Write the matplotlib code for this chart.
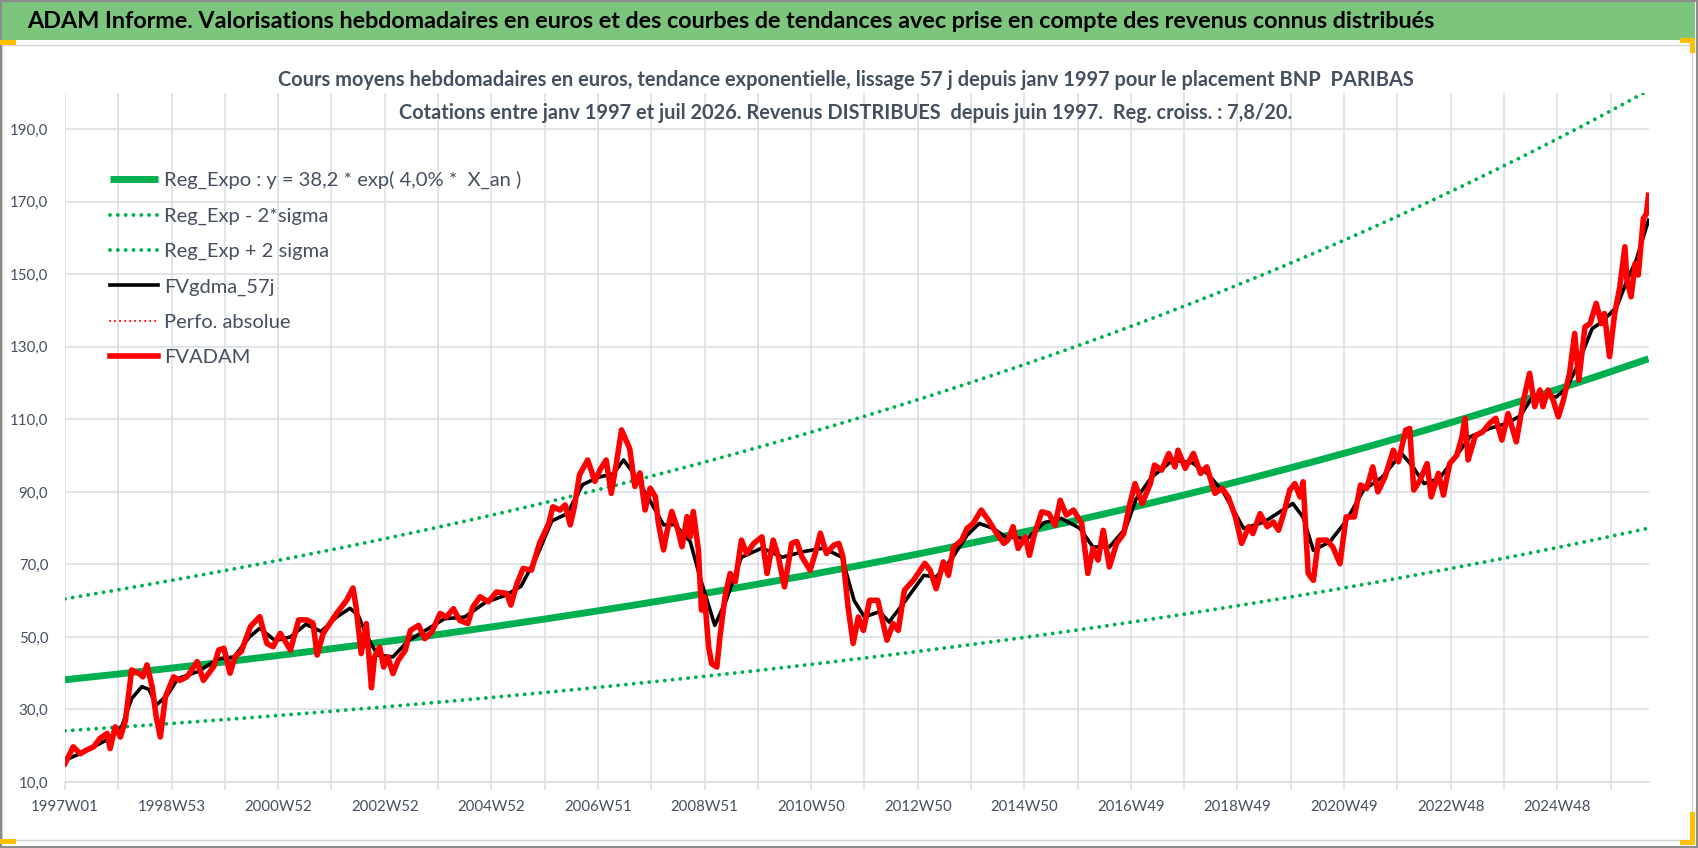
import matplotlib
matplotlib.use('Agg')
import matplotlib.pyplot as plt
from matplotlib.patches import Rectangle
import numpy as np

# ---- données ----
X_LABELS = ['1997W01', '1998W53', '2000W52', '2002W52', '2004W52', '2006W51',
            '2008W51', '2010W50', '2012W50', '2014W50', '2016W49', '2018W49',
            '2020W49', '2022W48', '2024W48']
N_WEEKS = 1546          # janv 1997 -> juil 2026, en semaines
Y_TICKS = [10, 30, 50, 70, 90, 110, 130, 150, 170, 190]

# régression exponentielle affichée dans la légende
REG_A = 38.2
REG_RATE = 0.0405
REG_2SIGMA = 0.46
WEEKS_PER_YEAR = 52.18

# FVADAM (semaine depuis 1997W01, valeur)
WEEK_IDX = [0, 8, 15, 21, 28, 34, 41, 44, 49, 54, 59, 65, 72, 76, 80, 85, 89, 93, 98, 106,
            112, 119, 129, 135, 145, 150, 155, 161, 166, 172, 181, 190, 197, 203, 210, 220, 228, 236, 242, 246,
            252, 265, 275, 281, 284, 289, 294, 299, 302, 307, 311, 315, 320, 325, 332, 337, 345, 351, 358, 366,
            372, 379, 385, 393, 398, 405, 413, 421, 431, 435, 441, 447, 455, 463, 472, 476, 483, 488, 493, 497,
            502, 510, 517, 522, 528, 533, 538, 543, 551, 556, 561, 566, 571, 576, 579, 584, 587, 592, 598, 602,
            607, 610, 613, 618, 621, 624, 628, 631, 636, 639, 644, 649, 654, 660, 665, 672, 680, 685, 691, 696,
            702, 709, 714, 719, 727, 732, 737, 743, 750, 755, 759, 764, 769, 774, 779, 785, 793, 802, 808, 813,
            819, 828, 839, 844, 850, 857, 862, 867, 875, 880, 886, 894, 901, 909, 916, 920, 925, 930, 937, 941,
            946, 953, 960, 966, 971, 977, 984, 992, 998, 1003, 1008, 1013, 1019, 1026, 1033, 1039, 1044, 1051, 1059, 1063,
            1070, 1077, 1083, 1086, 1093, 1101, 1108, 1114, 1122, 1129, 1135, 1142, 1148, 1155, 1159, 1166, 1173, 1179, 1184, 1189,
            1195, 1200, 1205, 1208, 1213, 1218, 1223, 1231, 1237, 1244, 1250, 1258, 1264, 1270, 1276, 1281, 1288, 1296, 1301, 1308,
            1312, 1316, 1322, 1329, 1333, 1340, 1345, 1351, 1358, 1363, 1366, 1369, 1376, 1383, 1390, 1396, 1402, 1408, 1416, 1423,
            1429, 1434, 1439, 1442, 1447, 1452, 1457, 1462, 1468, 1473, 1477, 1483, 1488, 1494, 1499, 1502, 1507, 1512, 1517, 1522,
            1524, 1528, 1532, 1535, 1540, 1543, 1545]
FVADAM = [15.1, 19.7, 17.8, 18.8, 19.7, 22.0, 23.4, 19.2, 25.2, 22.4, 27.0, 40.9, 40.0, 39.0, 42.3, 36.3, 28.0, 22.4, 33.5, 39.0,
          38.0, 39.0, 43.2, 38.0, 41.8, 46.4, 46.9, 40.0, 44.6, 46.0, 52.9, 55.6, 48.2, 47.3, 51.0, 46.4, 54.7, 54.7, 53.8, 45.0,
          51.0, 56.5, 60.2, 63.5, 58.3, 45.4, 53.7, 36.0, 44.5, 47.2, 41.7, 44.5, 39.9, 43.5, 46.3, 51.8, 53.2, 49.5, 51.4, 56.5,
          55.5, 57.8, 54.6, 53.7, 58.3, 61.1, 59.7, 62.4, 62.0, 58.8, 64.7, 68.9, 68.4, 75.8, 81.3, 85.9, 85.0, 86.4, 80.9, 85.9,
          94.7, 98.8, 92.9, 96.1, 98.8, 89.6, 97.9, 107.1, 101.9, 91.5, 95.2, 85.0, 91.0, 88.7, 81.3, 74.0, 78.6, 84.6, 79.5, 74.9,
          83.2, 77.6, 84.6, 74.0, 57.4, 61.1, 47.2, 42.6, 41.7, 50.0, 61.1, 67.5, 65.2, 76.7, 73.0, 75.8, 77.6, 67.5, 76.7, 72.1,
          63.8, 75.8, 76.3, 72.1, 68.4, 73.0, 78.6, 73.0, 75.3, 75.8, 72.1, 58.3, 48.2, 55.5, 51.8, 60.1, 60.1, 49.1, 53.7, 51.8,
          62.9, 65.7, 70.3, 68.4, 63.3, 70.7, 67.0, 74.8, 76.7, 79.9, 81.3, 85.0, 82.2, 78.5, 75.8, 76.7, 80.4, 74.4, 77.6, 72.5,
          78.5, 84.5, 84.0, 80.8, 87.7, 83.6, 85.0, 81.3, 67.5, 74.4, 71.2, 79.4, 69.3, 75.8, 78.5, 86.8, 92.3, 86.8, 92.3, 97.4,
          96.0, 100.6, 96.9, 101.5, 96.5, 100.6, 95.1, 96.9, 89.6, 91.0, 88.6, 83.1, 75.8, 80.4, 78.5, 84.0, 80.4, 81.7, 79.4, 84.0,
          90.5, 92.3, 88.6, 92.8, 67.5, 65.6, 76.7, 76.7, 74.8, 70.2, 83.1, 83.1, 91.9, 90.9, 96.9, 90.0, 94.2, 101.5, 98.3, 107.0,
          107.5, 90.5, 93.2, 97.8, 88.6, 95.1, 89.1, 97.8, 100.1, 105.2, 110.3, 98.8, 105.5, 106.5, 108.9, 110.3, 104.3, 111.6, 103.8, 115.3,
          122.7, 113.5, 118.1, 113.5, 118.1, 115.3, 110.7, 115.3, 122.7, 133.7, 120.8, 135.5, 136.4, 142.0, 136.4, 139.2, 127.3, 139.2, 146.5, 157.6,
          148.4, 143.8, 153.0, 149.8, 165.4, 166.7, 171.8]

GDMA_IDX = [0, 20, 40, 55, 65, 75, 82, 89, 100, 110, 130, 150, 165, 180, 190, 205, 220, 235, 250, 265,
            278, 286, 295, 305, 320, 335, 350, 370, 390, 410, 430, 445, 460, 475, 490, 505, 520, 535, 545, 555,
            570, 584, 595, 610, 620, 634, 645, 660, 680, 700, 720, 740, 758, 770, 780, 795, 804, 820, 838, 850,
            865, 880, 892, 905, 918, 939, 955, 972, 990, 1003, 1019, 1035, 1045, 1060, 1081, 1100, 1115, 1130, 1140, 1150,
            1170, 1198, 1208, 1218, 1234, 1250, 1267, 1285, 1304, 1315, 1326, 1341, 1355, 1371, 1390, 1407, 1420, 1433, 1455, 1465,
            1475, 1490, 1500, 1514, 1525, 1533, 1545]
FVGDMA_57J = [16.0, 18.5, 21.5, 25.0, 33.0, 36.3, 35.5, 31.2, 34.0, 38.5, 40.5, 44.0, 44.5, 50.0, 52.4, 49.0, 50.0, 53.5, 51.5, 55.5,
              57.9, 56.0, 50.0, 45.0, 44.5, 49.0, 51.5, 55.0, 55.5, 59.5, 61.5, 64.0, 72.0, 82.0, 84.0, 92.0, 94.0, 95.0, 98.8, 95.0,
              88.0, 80.9, 81.0, 76.3, 66.0, 53.2, 60.0, 72.0, 74.5, 72.0, 73.5, 74.5, 72.0, 60.0, 55.5, 57.0, 54.1, 60.0, 67.0, 66.5,
              71.5, 78.0, 81.3, 80.0, 77.6, 77.1, 81.5, 82.7, 80.0, 74.8, 74.8, 80.0, 88.0, 94.0, 98.8, 98.0, 95.0, 90.0, 85.0, 79.9,
              81.7, 86.8, 83.0, 73.9, 76.2, 82.0, 90.5, 94.0, 100.6, 97.0, 92.3, 93.7, 99.0, 105.2, 107.5, 108.9, 111.0, 116.7, 116.2, 118.5,
              124.5, 135.0, 137.0, 141.0, 149.0, 153.9, 164.9]

LEGEND_LABELS = ['Reg_Expo : y = 38,2 * exp( 4,0% *  X_an )', 'Reg_Exp - 2*sigma', 'Reg_Exp + 2 sigma',
                 'FVgdma_57j', 'Perfo. absolue', 'FVADAM']

TITLE = ("ADAM Informe. Valorisations hebdomadaires en euros et des courbes de tendances "
         "avec prise en compte des revenus connus distribués")
SUB1 = ("Cours moyens hebdomadaires en euros, tendance exponentielle, lissage 57 j depuis janv 1997 "
        "pour le placement BNP  PARIBAS")
SUB2 = "Cotations entre janv 1997 et juil 2026. Revenus DISTRIBUES  depuis juin 1997.  Reg. croiss. : 7,8/20."

# ---- style ----
GREEN = '#00B050'
BAR_GREEN = '#7CC57C'
GRID = '#DCDFE5'
TEXT_C = '#454F5F'
TITLE_C = '#44505F'
ORANGE = '#FFC000'

plt.rcParams['font.family'] = ['Lato', 'DejaVu Sans']

W, H = 1698, 848
def fx(px):
    return px / W
def fy(py):
    return 1 - py / H

fig = plt.figure(figsize=(W / 100, H / 100), dpi=100)
renderer = fig.canvas.get_renderer()

# cadre, bandeau vert et poignées de sélection
fig.patches.append(Rectangle((fx(2), fy(40)), fx(1695) - fx(2), fy(2) - fy(40),
                             facecolor=BAR_GREEN, edgecolor='none', transform=fig.transFigure, zorder=0))
fig.patches.append(Rectangle((fx(2), fy(840)), fx(1692) - fx(2), fy(45) - fy(840),
                             facecolor='none', edgecolor='#D4D4D4', lw=1, transform=fig.transFigure, zorder=0))
fig.patches.append(Rectangle((0.0005, 0.001), 0.999, 0.998, facecolor='none', edgecolor='#8C8C8C',
                             lw=1.5, transform=fig.transFigure, zorder=0))
for (x0, y0, x1, y1) in [(0, 40, 16, 45), (1680, 38, 1695, 43), (1690, 38, 1695, 53),
                         (1690, 812, 1695, 845), (1680, 840, 1695, 845), (0, 839, 16, 844)]:
    fig.patches.append(Rectangle((fx(x0), fy(y1)), fx(x1) - fx(x0), fy(y0) - fy(y1),
                                 facecolor=ORANGE, edgecolor='none', transform=fig.transFigure, zorder=1))

ax = fig.add_axes([fx(65), fy(782), fx(1649) - fx(65), fy(93) - fy(782)])

x = np.arange(N_WEEKS)
reg = REG_A * np.exp(REG_RATE * x / WEEKS_PER_YEAR)
dots = (0, (0.01, 2.0))

ax.plot(x, reg, color=GREEN, lw=5, solid_capstyle='butt', label=LEGEND_LABELS[0])
ax.plot(x, reg * np.exp(-REG_2SIGMA), color=GREEN, lw=2.8, ls=dots, dash_capstyle='round',
        label=LEGEND_LABELS[1])
ax.plot(x, reg * np.exp(REG_2SIGMA), color=GREEN, lw=2.8, ls=dots, dash_capstyle='round',
        label=LEGEND_LABELS[2])
ax.plot(GDMA_IDX, FVGDMA_57J, color='black', lw=2.6, solid_joinstyle='round', label=LEGEND_LABELS[3])
ax.plot([], [], color='red', lw=1.5, ls=(0, (0.01, 2.4)), dash_capstyle='round', label=LEGEND_LABELS[4])
ax.plot(WEEK_IDX, FVADAM, color='red', lw=4.0, solid_joinstyle='round', label=LEGEND_LABELS[5])

ax.set_xlim(0, N_WEEKS - 0.5)
ax.set_ylim(10, 200)
ax.set_yticks(Y_TICKS)
ax.set_yticklabels([f'{v:.1f}'.replace('.', ',') for v in Y_TICKS])
xt = np.arange(0, N_WEEKS, 52)
ax.set_xticks(xt)
ax.set_xticklabels([X_LABELS[i // 2] if i % 2 == 0 else '' for i in range(len(xt))])

ax.grid(True, color=GRID, lw=1.2)
ax.set_axisbelow(True)
for s in ['top', 'right', 'left']:
    ax.spines[s].set_visible(False)
ax.spines['bottom'].set_color(GRID)
ax.spines['bottom'].set_linewidth(1.2)
ax.tick_params(axis='x', length=6, width=1.2, color=GRID, pad=7, labelsize=10.8, labelcolor=TEXT_C)
ax.tick_params(axis='y', length=0, pad=12, labelsize=10.8, labelcolor=TEXT_C)

leg = ax.legend(loc='upper left', bbox_to_anchor=(fx(110), fy(171)), bbox_transform=fig.transFigure,
                frameon=False, fontsize=14.5, handlelength=2.4, handletextpad=0.3,
                labelspacing=0.9, borderpad=0, borderaxespad=0)
for t in leg.get_texts():
    t.set_color(TEXT_C)

# titres ajustés à la largeur mesurée sur l'original
def fit_width(txt, target_px):
    w = txt.get_window_extent(renderer).width
    txt.set_fontsize(txt.get_fontsize() * target_px / w)

t0 = fig.text(fx(27), fy(22), TITLE, ha='left', va='center', fontsize=18, fontweight='bold', color='black')
fit_width(t0, 1413)
t1 = fig.text(fx(846), fy(80), SUB1, ha='center', va='center', fontsize=14, fontweight='bold', color=TITLE_C)
fit_width(t1, 1144)
t2 = fig.text(fx(846), fy(113), SUB2, ha='center', va='center', fontsize=t1.get_fontsize(),
              fontweight='bold', color=TITLE_C)

fig.savefig('out.png', dpi=100)
